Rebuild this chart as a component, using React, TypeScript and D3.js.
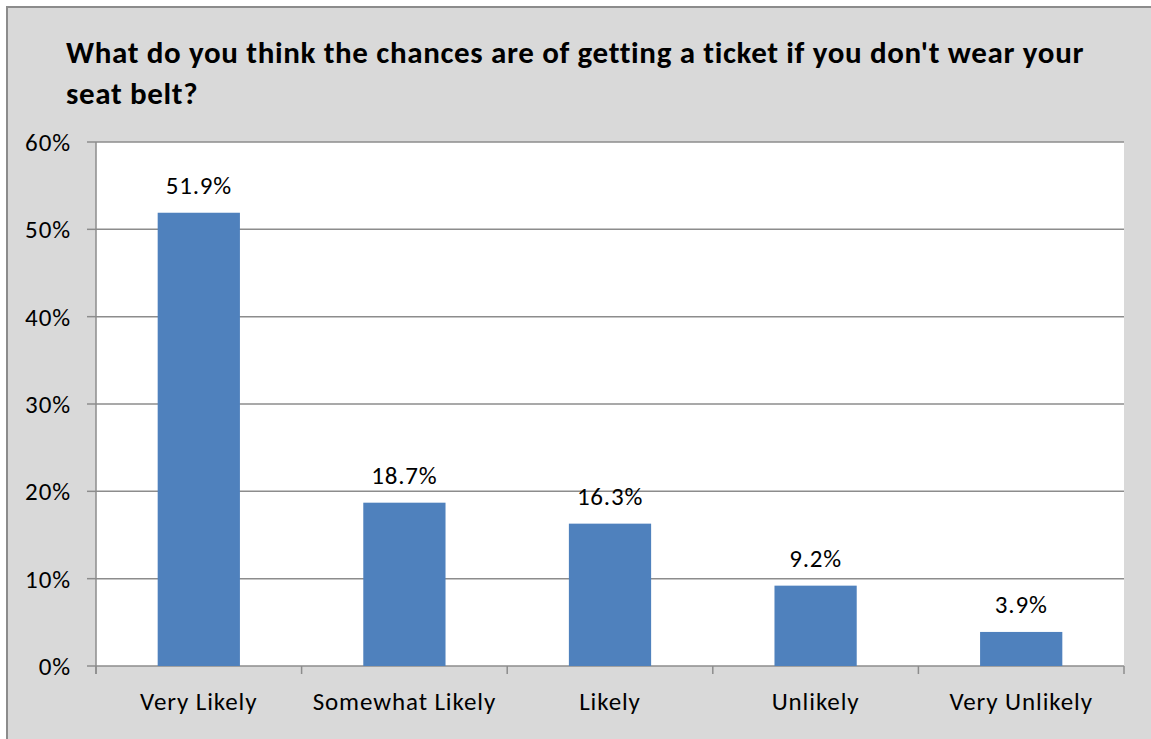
import React from "react";
import * as d3 from "d3";

const categories = ["Very Likely", "Somewhat Likely", "Likely", "Unlikely", "Very Unlikely"];
const values = [51.9, 18.7, 16.3, 9.2, 3.9];
const yTicks = [0, 10, 20, 30, 40, 50, 60];
const titleLines = [
  "What do you think the chances are of getting a ticket if you don't wear your",
  "seat belt?",
];

const W = 1151;
const H = 739;
const plot = { left: 96, right: 1124, top: 142, bottom: 666 };
const font = "Carlito, Calibri, 'Open Sans', 'Liberation Sans', sans-serif";

export default function App() {
  const xb = d3.scaleBand<string>().domain(categories).range([plot.left, plot.right]);
  const y = d3.scaleLinear().domain([0, 60]).range([plot.bottom, plot.top]);
  const bw = xb.bandwidth() * 0.4;
  const boundaries = [...categories.map((c) => xb(c) as number), plot.right];

  return (
    <svg
      width={W}
      height={H}
      style={{ position: "absolute", left: 0, top: 0, display: "block" }}
    >
      <rect x={0} y={0} width={W} height={H} fill="#ffffff" />
      <rect x={7} y={7} width={W} height={H} fill="#d9d9d9" stroke="#8c8c8c" strokeWidth={2} />
      {titleLines.map((t, i) => (
        <text
          key={i}
          x={66}
          y={63 + i * 41}
          fontFamily={font}
          fontWeight="bold"
          fontSize={31}
          letterSpacing={0.65}
          fill="#000"
        >
          {t}
        </text>
      ))}
      <rect
        x={plot.left}
        y={plot.top}
        width={plot.right - plot.left}
        height={plot.bottom - plot.top}
        fill="#ffffff"
      />
      {yTicks.map((t) => (
        <g key={t}>
          <line x1={plot.left} x2={plot.right} y1={y(t)} y2={y(t)} stroke="#8c8c8c" strokeWidth={1.5} />
          <line x1={87} x2={plot.left} y1={y(t)} y2={y(t)} stroke="#8c8c8c" strokeWidth={1.5} />
          <text
            x={71}
            y={y(t)}
            dy="0.36em"
            textAnchor="end"
            fontFamily={font}
            fontSize={25}
            letterSpacing={0.9}
            fill="#000"
          >
            {t}%
          </text>
        </g>
      ))}
      <line x1={plot.left} x2={plot.left} y1={plot.top} y2={plot.bottom + 8} stroke="#8c8c8c" strokeWidth={1.5} />
      {boundaries.map((b, i) => (
        <line key={i} x1={b} x2={b} y1={plot.bottom} y2={plot.bottom + 8} stroke="#8c8c8c" strokeWidth={1.5} />
      ))}
      {categories.map((c, i) => {
        const cx = (xb(c) as number) + xb.bandwidth() / 2;
        return (
          <g key={c}>
            <rect
              x={cx - bw / 2}
              y={y(values[i])}
              width={bw}
              height={plot.bottom - y(values[i])}
              fill="#4f81bd"
            />
            <text
              x={cx}
              y={y(values[i]) - 19}
              textAnchor="middle"
              fontFamily={font}
              fontSize={25}
              letterSpacing={0.8}
              fill="#000"
            >
              {values[i].toFixed(1)}%
            </text>
            <text
              x={cx}
              y={710}
              textAnchor="middle"
              fontFamily={font}
              fontSize={25}
              letterSpacing={0.9}
              fill="#000"
            >
              {c}
            </text>
          </g>
        );
      })}
    </svg>
  );
}
